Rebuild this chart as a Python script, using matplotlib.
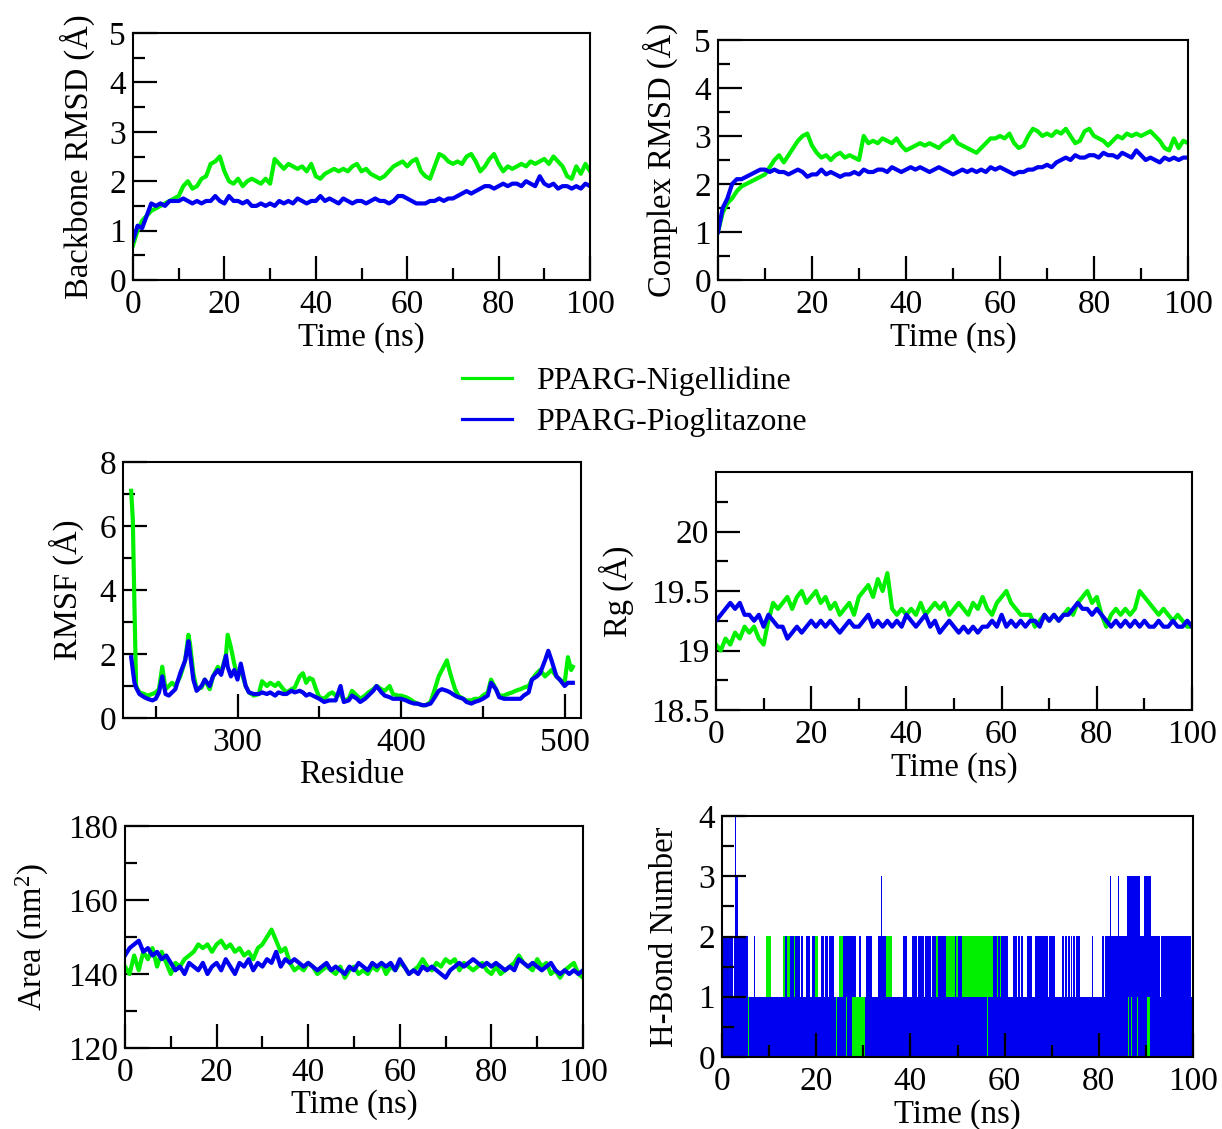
import numpy as np
import matplotlib
matplotlib.use("Agg")
import matplotlib.pyplot as plt
from matplotlib.lines import Line2D
from matplotlib.ticker import FixedLocator, FuncFormatter

plt.rcParams['font.family'] = ['Liberation Serif', 'DejaVu Serif']
plt.rcParams['mathtext.fontset'] = 'custom'
plt.rcParams['mathtext.rm'] = 'Liberation Serif'
plt.rcParams['mathtext.it'] = 'Liberation Serif:italic'

GREEN = '#00f000'
BLUE = '#0000f0'
LABELS = ['PPARG-Nigellidine', 'PPARG-Pioglitazone']

# ---------------- data ----------------
time_ns = np.arange(0, 101)  # 1 ns sampling

bb_nig = [0.7, 1.0, 1.2, 1.3, 1.4, 1.45, 1.5, 1.55, 1.6, 1.65,
          1.7, 1.9, 2.0, 1.85, 1.9, 2.05, 2.1, 2.35, 2.4, 2.5,
          2.2, 2.0, 1.95, 2.05, 1.9, 2.0, 2.05, 2.0, 1.95, 2.05,
          1.95, 2.45, 2.35, 2.25, 2.35, 2.3, 2.25, 2.3, 2.2, 2.35,
          2.1, 2.05, 2.15, 2.2, 2.25, 2.2, 2.25, 2.2, 2.3, 2.35,
          2.2, 2.25, 2.15, 2.1, 2.05, 2.1, 2.2, 2.3, 2.35, 2.4,
          2.3, 2.4, 2.45, 2.2, 2.1, 2.05, 2.3, 2.55, 2.5, 2.4,
          2.35, 2.4, 2.35, 2.5, 2.55, 2.4, 2.2, 2.3, 2.45, 2.55,
          2.35, 2.2, 2.3, 2.25, 2.3, 2.35, 2.3, 2.4, 2.35, 2.4,
          2.45, 2.35, 2.5, 2.4, 2.3, 2.1, 2.05, 2.3, 2.15, 2.35,
          2.2]
bb_pio = [0.8, 1.1, 1.05, 1.3, 1.55, 1.5, 1.55, 1.5, 1.6, 1.6,
          1.6, 1.65, 1.6, 1.55, 1.6, 1.55, 1.6, 1.6, 1.7, 1.6,
          1.55, 1.7, 1.6, 1.6, 1.55, 1.6, 1.5, 1.5, 1.55, 1.5,
          1.55, 1.5, 1.6, 1.55, 1.6, 1.55, 1.65, 1.6, 1.55, 1.6,
          1.6, 1.7, 1.6, 1.65, 1.6, 1.55, 1.65, 1.6, 1.55, 1.6,
          1.6, 1.55, 1.6, 1.65, 1.6, 1.6, 1.55, 1.6, 1.7, 1.7,
          1.65, 1.6, 1.55, 1.55, 1.55, 1.6, 1.6, 1.65, 1.6, 1.65,
          1.65, 1.7, 1.75, 1.8, 1.75, 1.8, 1.85, 1.9, 1.9, 1.85,
          1.9, 1.95, 1.9, 1.95, 1.95, 1.9, 2.0, 1.95, 1.9, 2.1,
          1.95, 1.9, 1.95, 1.85, 1.9, 1.9, 1.85, 1.9, 1.85, 1.95,
          1.9]

cx_nig = [1.0, 1.4, 1.6, 1.7, 1.85, 1.95, 2.0, 2.05, 2.1, 2.15,
          2.2, 2.35, 2.5, 2.6, 2.45, 2.6, 2.75, 2.9, 3.0, 3.05,
          2.8, 2.65, 2.55, 2.6, 2.5, 2.6, 2.65, 2.55, 2.6, 2.55,
          2.5, 3.0, 2.85, 2.9, 2.85, 2.95, 2.9, 2.85, 2.95, 2.8,
          2.7, 2.75, 2.8, 2.85, 2.8, 2.85, 2.8, 2.75, 2.85, 2.9,
          3.0, 2.85, 2.8, 2.75, 2.7, 2.65, 2.75, 2.85, 2.95, 2.95,
          3.0, 2.95, 3.05, 2.85, 2.75, 2.8, 3.0, 3.15, 3.1, 3.0,
          3.05, 3.0, 3.1, 3.05, 3.15, 3.0, 2.85, 2.9, 3.1, 3.15,
          3.0, 2.95, 2.9, 2.8, 2.9, 3.0, 2.95, 3.05, 3.0, 3.05,
          3.0, 3.05, 3.1, 3.0, 2.9, 2.75, 2.7, 2.95, 2.75, 2.9,
          2.85]
cx_pio = [1.0, 1.5, 1.7, 2.0, 2.1, 2.1, 2.15, 2.2, 2.25, 2.3,
          2.3, 2.25, 2.3, 2.25, 2.25, 2.2, 2.25, 2.3, 2.25, 2.15,
          2.2, 2.2, 2.3, 2.2, 2.25, 2.2, 2.15, 2.2, 2.2, 2.25,
          2.2, 2.3, 2.25, 2.25, 2.3, 2.3, 2.25, 2.35, 2.3, 2.25,
          2.3, 2.35, 2.3, 2.35, 2.3, 2.25, 2.3, 2.35, 2.3, 2.25,
          2.2, 2.25, 2.3, 2.25, 2.3, 2.25, 2.3, 2.25, 2.35, 2.3,
          2.35, 2.3, 2.25, 2.2, 2.25, 2.25, 2.3, 2.3, 2.35, 2.35,
          2.4, 2.35, 2.45, 2.5, 2.55, 2.5, 2.6, 2.55, 2.55, 2.6,
          2.6, 2.55, 2.65, 2.6, 2.6, 2.55, 2.65, 2.6, 2.55, 2.7,
          2.6, 2.5, 2.55, 2.5, 2.45, 2.55, 2.5, 2.55, 2.5, 2.55,
          2.55]

rmsf_residue = [235, 236, 237, 238, 240, 243, 245, 248, 250, 252,
                254, 256, 258, 260, 262, 265, 268, 270, 271, 273,
                275, 278, 280, 283, 285, 288, 290, 293, 294, 296,
                298, 300, 302, 305, 307, 310, 313, 315, 318, 320,
                323, 325, 328, 330, 333, 335, 338, 340, 342, 344,
                346, 348, 350, 353, 356, 358, 360, 363, 365, 368,
                370, 373, 375, 378, 380, 383, 385, 388, 390, 393,
                395, 398, 400, 403, 405, 408, 410, 413, 415, 418,
                420, 423, 425, 428, 430, 433, 435, 438, 440, 443,
                445, 448, 450, 453, 455, 458, 460, 463, 465, 468,
                470, 473, 475, 478, 480, 483, 485, 488, 490, 492,
                495, 497, 500, 502, 504, 505]
rmsf_nig = [7.1, 6.2, 3.5, 1.0, 0.8, 0.75, 0.7, 0.75, 0.8, 0.9,
            1.6, 0.9, 1.0, 1.1, 1.0, 1.3, 1.8, 2.6, 2.3, 1.4,
            0.9, 0.95, 1.2, 0.9, 1.3, 1.6, 1.4, 2.0, 2.6, 2.2,
            1.7, 1.3, 1.5, 1.0, 0.8, 0.7, 0.75, 1.15, 1.0, 1.1,
            1.0, 1.1, 0.9, 0.8, 0.9, 0.95, 1.3, 1.4, 1.1, 1.25,
            1.2, 0.9, 0.65, 0.6, 0.75, 0.8, 0.7, 0.75, 0.55, 0.6,
            0.85, 0.7, 0.6, 0.7, 0.8, 0.9, 1.0, 0.9, 0.85, 1.0,
            0.75, 0.7, 0.7, 0.65, 0.6, 0.5, 0.45, 0.4, 0.4, 0.5,
            0.8, 1.3, 1.5, 1.8, 1.4, 0.9, 0.7, 0.6, 0.55, 0.55,
            0.6, 0.6, 0.7, 0.8, 1.2, 0.9, 0.7, 0.7, 0.75, 0.8,
            0.85, 0.9, 0.95, 1.0, 1.2, 1.4, 1.5, 1.3, 1.4, 1.5,
            1.3, 1.2, 1.1, 1.9, 1.5, 1.6]
rmsf_pio = [1.9, 1.5, 1.1, 0.95, 0.75, 0.65, 0.6, 0.55, 0.6, 0.8,
            1.3, 0.75, 0.7, 0.8, 0.9, 1.4, 1.8, 2.4, 2.0, 1.2,
            0.85, 1.0, 1.2, 1.0, 1.3, 1.5, 1.35, 1.95, 1.6, 1.3,
            1.5, 1.2, 1.7, 1.0, 0.8, 0.75, 0.75, 0.8, 0.75, 0.8,
            0.7, 0.8, 0.75, 0.75, 0.85, 0.8, 0.85, 0.8, 0.7, 0.75,
            0.7, 0.65, 0.6, 0.5, 0.55, 0.55, 0.55, 1.0, 0.5, 0.55,
            0.7, 0.6, 0.5, 0.6, 0.7, 0.85, 1.0, 0.8, 0.7, 0.65,
            0.6, 0.6, 0.6, 0.55, 0.5, 0.45, 0.45, 0.4, 0.4, 0.45,
            0.6, 0.85, 0.9, 0.85, 0.8, 0.7, 0.65, 0.6, 0.5, 0.45,
            0.5, 0.55, 0.6, 0.7, 1.1, 0.9, 0.65, 0.6, 0.6, 0.6,
            0.6, 0.6, 0.7, 0.8, 1.2, 1.3, 1.4, 1.8, 2.1, 1.8,
            1.3, 1.2, 1.0, 1.1, 1.1, 1.1]

rg_nig = [19.05, 19.0, 19.1, 19.05, 19.15, 19.1, 19.2, 19.15, 19.2, 19.1,
          19.05, 19.25, 19.4, 19.35, 19.4, 19.45, 19.35, 19.45, 19.5, 19.4,
          19.45, 19.5, 19.4, 19.45, 19.35, 19.4, 19.3, 19.35, 19.4, 19.3,
          19.45, 19.5, 19.55, 19.45, 19.6, 19.5, 19.65, 19.35, 19.3, 19.35,
          19.3, 19.35, 19.3, 19.4, 19.3, 19.35, 19.4, 19.35, 19.4, 19.3,
          19.35, 19.4, 19.35, 19.3, 19.4, 19.35, 19.45, 19.35, 19.3, 19.4,
          19.45, 19.5, 19.4, 19.35, 19.3, 19.3, 19.3, 19.2, 19.25, 19.3,
          19.25, 19.3, 19.25, 19.3, 19.35, 19.3, 19.4, 19.45, 19.5, 19.4,
          19.45, 19.3, 19.2, 19.3, 19.35, 19.3, 19.35, 19.3, 19.35, 19.5,
          19.45, 19.4, 19.35, 19.3, 19.35, 19.3, 19.25, 19.3, 19.25, 19.2,
          19.2]
rg_pio = [19.25, 19.3, 19.35, 19.4, 19.35, 19.4, 19.3, 19.3, 19.25, 19.3,
          19.2, 19.3, 19.25, 19.2, 19.2, 19.1, 19.15, 19.2, 19.15, 19.2,
          19.25, 19.2, 19.25, 19.2, 19.25, 19.2, 19.15, 19.2, 19.25, 19.2,
          19.2, 19.25, 19.3, 19.2, 19.25, 19.2, 19.25, 19.2, 19.25, 19.2,
          19.3, 19.25, 19.2, 19.25, 19.3, 19.2, 19.25, 19.15, 19.2, 19.25,
          19.2, 19.15, 19.2, 19.15, 19.2, 19.15, 19.2, 19.2, 19.25, 19.2,
          19.3, 19.2, 19.25, 19.2, 19.25, 19.2, 19.25, 19.25, 19.2, 19.3,
          19.25, 19.3, 19.25, 19.3, 19.3, 19.35, 19.4, 19.35, 19.35, 19.3,
          19.35, 19.3, 19.25, 19.2, 19.25, 19.2, 19.25, 19.2, 19.25, 19.2,
          19.25, 19.2, 19.2, 19.25, 19.2, 19.2, 19.25, 19.2, 19.2, 19.25,
          19.2]

area_nig = [142, 140, 145, 141, 146, 144, 147, 142, 146, 143,
            140, 143, 142, 144, 145, 146, 148, 147, 148, 146,
            148, 149, 147, 148, 146, 147, 145, 146, 144, 147,
            148, 150, 152, 149, 146, 147, 143, 141, 142, 141,
            143, 142, 140, 141, 142, 141, 140, 142, 139, 141,
            142, 140, 141, 140, 142, 141, 143, 140, 142, 141,
            143, 142, 140, 141, 142, 144, 142, 141, 143, 142,
            144, 143, 144, 141, 143, 142, 141, 142, 143, 141,
            140, 142, 140, 141, 142, 143, 145, 143, 142, 141,
            144, 142, 143, 140, 141, 139, 141, 142, 143, 140,
            139]
area_pio = [145, 147, 148, 149, 146, 147, 145, 146, 144, 145,
            143, 141, 142, 140, 143, 142, 141, 143, 140, 142,
            143, 141, 144, 142, 140, 143, 142, 144, 141, 143,
            142, 144, 143, 146, 142, 144, 143, 144, 143, 142,
            143, 142, 141, 142, 143, 141, 142, 141, 140, 142,
            141, 143, 142, 141, 143, 142, 143, 142, 143, 141,
            144, 142, 140, 141, 140, 142, 141, 142, 141, 140,
            139, 141, 142, 143, 142, 143, 144, 143, 142, 143,
            142, 143, 142, 141, 142, 141, 144, 143, 142, 143,
            142, 141, 142, 143, 141, 140, 141, 140, 141, 140,
            141]

# H-bond count: change points (ns) with the band covered (low, high) per segment
hb_pio_t = [0.0, 2.3, 2.5, 2.8, 3.0, 3.3, 5.5, 5.6, 5.8, 6.8, 7.1, 13.4, 13.9, 14.4,
            15.2, 15.6, 16.5, 16.8, 17.3, 17.9, 18.6, 19.1, 19.8, 21.1, 21.6, 21.8,
            22.6, 22.8, 23.8, 24.2, 24.4, 25.7, 26.3, 26.5, 27.7, 28.5, 29.0, 29.5,
            30.3, 30.6, 31.8, 33.1, 33.7, 33.9, 34.9, 38.4, 39.3, 40.3, 41.5, 41.7,
            42.8, 43.0, 44.3, 44.5, 45.5, 45.9, 47.6, 49.4, 49.7, 50.0, 51.0, 56.3,
            56.5, 57.6, 58.3, 58.5, 59.0, 59.2, 60.8, 61.7, 62.7, 62.9, 63.2, 63.4,
            64.0, 64.7, 65.8, 66.5, 69.2, 69.4, 70.7, 72.1, 72.6, 72.8, 73.3, 73.5,
            73.8, 74.0, 74.3, 74.5, 75.0, 75.2, 76.0, 78.5, 78.7, 80.6, 81.2, 81.4,
            82.3, 82.6, 84.0, 84.3, 86.0, 86.2, 86.4, 86.9, 87.1, 88.2, 88.4, 88.8,
            89.6, 90.2, 90.9, 91.1, 92.9, 93.1, 99.6]
hb_pio_lo = [0, 0, 0, 0, 0, 0, 0, 1, 0, 0, 0, 0, 0, 0,
             0, 0, 0, 0, 0, 0, 0, 0, 0, 0, 0, 0,
             0, 0, 0, 1, 0, 0, 1, 0, 1, 1, 1, 1,
             0, 0, 0, 0, 0, 0, 0, 0, 0, 0, 0, 0,
             0, 0, 0, 0, 0, 0, 0, 0, 0, 0, 0, 1,
             0, 0, 0, 0, 0, 0, 0, 0, 0, 0, 0, 0,
             0, 0, 0, 0, 0, 0, 0, 0, 0, 0, 0, 0,
             0, 0, 0, 0, 0, 0, 0, 0, 0, 0, 0, 0,
             0, 0, 0, 0, 0, 1, 0, 1, 0, 1, 0, 0,
             0, 1, 0, 0, 0, 0, 0]
hb_pio_hi = [2, 1, 2, 4, 3, 2, 1, 1, 1, 2, 1, 2, 1, 2,
             1, 2, 1, 2, 1, 2, 1, 2, 1, 2, 1, 2,
             1, 2, 1, 1, 1, 2, 2, 2, 2, 1, 2, 1,
             1, 2, 1, 2, 3, 2, 1, 2, 1, 2, 1, 2,
             1, 2, 1, 2, 1, 2, 1, 2, 1, 2, 1, 1,
             1, 2, 1, 2, 1, 2, 1, 2, 1, 2, 1, 2,
             1, 2, 1, 2, 1, 2, 1, 2, 1, 2, 1, 2,
             1, 2, 1, 2, 1, 2, 1, 2, 1, 2, 1, 2,
             3, 2, 3, 2, 3, 3, 3, 3, 3, 3, 3, 2,
             3, 3, 3, 2, 1, 2, 1]
hb_nig_t = [0.0, 9.3, 10.5, 13.0, 14.4, 15.2, 15.6, 19.8, 20.3, 24.9, 25.7,
            34.9, 36.0, 45.5, 45.9, 47.6, 49.4, 49.7, 50.0, 51.0, 57.6,
            58.3, 58.5, 59.0, 59.2]
hb_nig_lo = [0] * len(hb_nig_t)
hb_nig_hi = [1, 2, 1, 2, 1, 2, 1, 2, 1, 2, 1,
             2, 1, 2, 1, 2, 1, 2, 1, 2, 1,
             2, 1, 2, 1]

# ---------------- figure ----------------
W, H = 1222, 1129
fig = plt.figure(figsize=(W / 100, H / 100), dpi=100)


def px_axes(left, top, right, bottom):
    return fig.add_axes([left / W, 1 - bottom / H, (right - left) / W, (bottom - top) / H])


TICK_FS = 24
LABEL_FS = 23.5
LW = 3.0
gfmt = FuncFormatter(lambda v, p: '%g' % v)


def style(ax, xmaj, xmin, ymaj, ymin):
    ax.xaxis.set_major_locator(FixedLocator(xmaj))
    ax.xaxis.set_minor_locator(FixedLocator(xmin))
    ax.yaxis.set_major_locator(FixedLocator(ymaj))
    ax.yaxis.set_minor_locator(FixedLocator(ymin))
    ax.xaxis.set_major_formatter(gfmt)
    ax.yaxis.set_major_formatter(gfmt)
    ax.tick_params(which='both', direction='in', top=False, right=False,
                   width=1.6, color='black')
    ax.tick_params(which='major', length=17, labelsize=TICK_FS)
    ax.tick_params(axis='x', which='major', pad=7)
    ax.tick_params(axis='y', which='major', pad=5)
    ax.tick_params(which='minor', length=8.5)
    for s in ax.spines.values():
        s.set_linewidth(1.5)


xt_major = [0, 20, 40, 60, 80, 100]
xt_minor = [10, 30, 50, 70, 90]

# Panel 1: backbone RMSD
ax1 = px_axes(133, 33, 590, 280)
ax1.plot(time_ns, bb_nig, color=GREEN, lw=LW)
ax1.plot(time_ns, bb_pio, color=BLUE, lw=LW)
ax1.set_xlim(0, 100)
ax1.set_ylim(0, 5)
style(ax1, xt_major, xt_minor, [0, 1, 2, 3, 4, 5], [0.5, 1.5, 2.5, 3.5, 4.5])
ax1.set_xlabel('Time (ns)', fontsize=LABEL_FS)
ax1.set_ylabel('Backbone RMSD (Å)', fontsize=LABEL_FS)
ax1.xaxis.set_label_coords(0.5, -0.17)
ax1.yaxis.set_label_coords(-0.083, 0.5)

# Panel 2: complex RMSD
ax2 = px_axes(718, 40, 1188, 280)
ax2.plot(time_ns, cx_nig, color=GREEN, lw=LW)
ax2.plot(time_ns, cx_pio, color=BLUE, lw=LW)
ax2.set_xlim(0, 100)
ax2.set_ylim(0, 5)
style(ax2, xt_major, xt_minor, [0, 1, 2, 3, 4, 5], [0.5, 1.5, 2.5, 3.5, 4.5])
ax2.set_xlabel('Time (ns)', fontsize=LABEL_FS)
ax2.set_ylabel('Complex RMSD (Å)', fontsize=LABEL_FS)
ax2.xaxis.set_label_coords(0.5, -0.175)
ax2.yaxis.set_label_coords(-0.085, 0.5)

# Legend
handles = [Line2D([], [], color=GREEN, lw=2.3), Line2D([], [], color=BLUE, lw=2.3)]
fig.legend(handles, LABELS, loc='center', bbox_to_anchor=(634 / W, 1 - 402 / H),
           frameon=False, fontsize=23, handlelength=1.57, handletextpad=0.75,
           labelspacing=0.35)

# Panel 3: RMSF
ax3 = px_axes(123, 462, 581, 718)
ax3.plot(rmsf_residue, rmsf_nig, color=GREEN, lw=LW)
ax3.plot(rmsf_residue, rmsf_pio, color=BLUE, lw=LW)
ax3.set_xlim(230, 510)
ax3.set_ylim(0, 8)
style(ax3, [300, 400, 500], [250, 350, 450], [0, 2, 4, 6, 8], [1, 3, 5, 7])
ax3.set_xlabel('Residue', fontsize=LABEL_FS)
ax3.set_ylabel('RMSF (Å)', fontsize=LABEL_FS)
ax3.xaxis.set_label_coords(0.5, -0.164)
ax3.yaxis.set_label_coords(-0.085, 0.5)

# Panel 4: Rg
ax4 = px_axes(716, 472, 1192, 710)
ax4.plot(time_ns, rg_nig, color=GREEN, lw=LW)
ax4.plot(time_ns, rg_pio, color=BLUE, lw=LW)
ax4.set_xlim(0, 100)
ax4.set_ylim(18.5, 20.5)
style(ax4, xt_major, xt_minor, [18.5, 19, 19.5, 20], [18.75, 19.25, 19.75, 20.25])
ax4.set_xlabel('Time (ns)', fontsize=LABEL_FS)
ax4.set_ylabel('Rg (Å)', fontsize=LABEL_FS)
ax4.xaxis.set_label_coords(0.5, -0.176)
ax4.yaxis.set_label_coords(-0.172, 0.5)

# Panel 5: SASA
ax5 = px_axes(125, 826, 583, 1048)
ax5.plot(time_ns, area_nig, color=GREEN, lw=LW)
ax5.plot(time_ns, area_pio, color=BLUE, lw=LW)
ax5.set_xlim(0, 100)
ax5.set_ylim(120, 180)
style(ax5, xt_major, xt_minor, [120, 140, 160, 180], [130, 150, 170])
ax5.set_xlabel('Time (ns)', fontsize=LABEL_FS)
ax5.set_ylabel('Area (nm$^2$)', fontsize=LABEL_FS)
ax5.xaxis.set_label_coords(0.5, -0.185)
ax5.yaxis.set_label_coords(-0.162, 0.5)

# Panel 6: H-bonds
ax6 = px_axes(722, 816, 1193, 1057)
for tt, lo, hi, col in [(hb_nig_t, hb_nig_lo, hb_nig_hi, GREEN),
                        (hb_pio_t, hb_pio_lo, hb_pio_hi, BLUE)]:
    xs = list(tt) + [100.0]
    los = list(lo) + [lo[-1]]
    his = list(hi) + [hi[-1]]
    ax6.fill_between(xs, los, his, step='post', color=col, lw=0)
ax6.set_xlim(0, 100)
ax6.set_ylim(0, 4)
style(ax6, xt_major, xt_minor, [0, 1, 2, 3, 4], [0.5, 1.5, 2.5, 3.5])
ax6.set_xlabel('Time (ns)', fontsize=LABEL_FS)
ax6.set_ylabel('H-Bond Number', fontsize=LABEL_FS)
ax6.xaxis.set_label_coords(0.5, -0.174)
ax6.yaxis.set_label_coords(-0.089, 0.5)

fig.savefig('out.png', dpi=100)
